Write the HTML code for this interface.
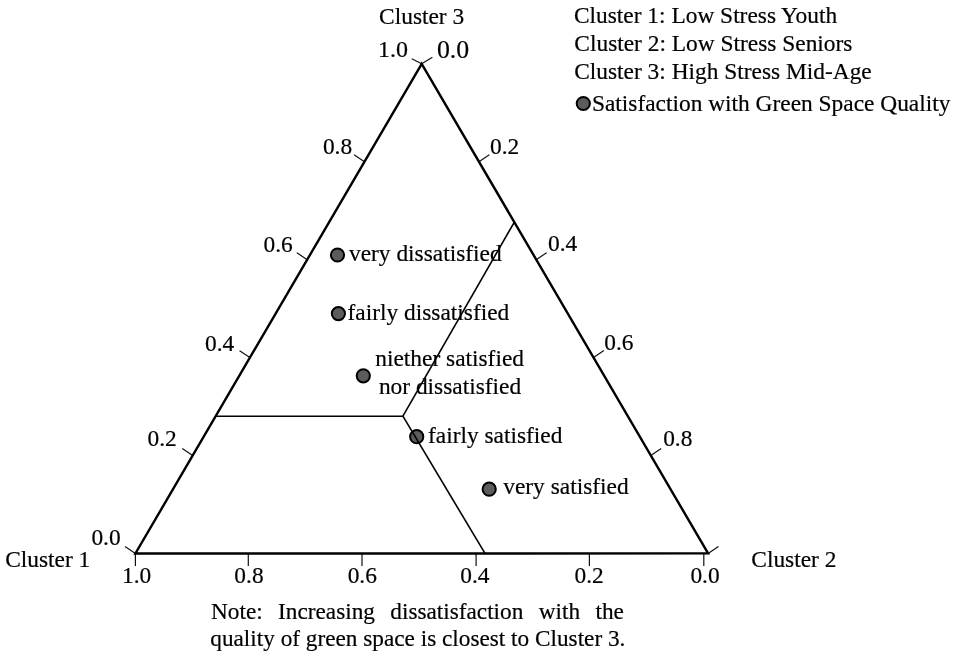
<!DOCTYPE html><html><head><meta charset="utf-8"><style>html,body{margin:0;padding:0;background:#fff;}svg{display:block;will-change:transform;}text{stroke:#000;stroke-width:0.2px;font-family:"Liberation Serif",serif;font-size:23.4px;fill:#000;}</style></head><body>
<svg width="957" height="658" viewBox="0 0 957 658">
<g stroke="#000" stroke-width="1.6" fill="none">
<line x1="215.80" y1="416.20" x2="402.90" y2="416.20"/>
<line x1="402.90" y1="416.20" x2="514.20" y2="222.30"/>
</g>
<g stroke="#111" stroke-width="1.2">
<line x1="135.40" y1="553.40" x2="135.40" y2="565.90"/>
<line x1="248.30" y1="553.40" x2="248.30" y2="565.90"/>
<line x1="362.00" y1="553.40" x2="362.00" y2="565.90"/>
<line x1="476.10" y1="553.40" x2="476.10" y2="565.90"/>
<line x1="589.40" y1="553.40" x2="589.40" y2="565.90"/>
<line x1="703.80" y1="553.40" x2="703.80" y2="565.90"/>
<line x1="135.40" y1="553.50" x2="125.04" y2="546.51"/>
<line x1="192.66" y1="455.56" x2="182.30" y2="448.57"/>
<line x1="249.92" y1="357.62" x2="239.56" y2="350.63"/>
<line x1="307.18" y1="259.68" x2="296.82" y2="252.69"/>
<line x1="364.44" y1="161.74" x2="354.08" y2="154.75"/>
<line x1="421.70" y1="63.80" x2="411.72" y2="58.72"/>
<line x1="421.70" y1="63.80" x2="432.41" y2="57.36"/>
<line x1="478.98" y1="161.72" x2="489.34" y2="154.73"/>
<line x1="536.26" y1="259.64" x2="546.62" y2="252.65"/>
<line x1="593.54" y1="357.56" x2="603.90" y2="350.57"/>
<line x1="650.82" y1="455.48" x2="661.18" y2="448.49"/>
<line x1="708.10" y1="553.40" x2="718.46" y2="546.41"/>
</g>
<g fill="#5c5c5c" stroke="#000" stroke-width="2.0">
<circle cx="337.50" cy="255.00" r="6.6"/>
<circle cx="338.40" cy="313.60" r="6.6"/>
<circle cx="363.30" cy="375.80" r="6.6"/>
<circle cx="416.70" cy="436.70" r="6.6"/>
<circle cx="489.20" cy="489.20" r="6.6"/>
<circle cx="583.30" cy="103.50" r="6.6"/>
</g>
<line x1="402.90" y1="416.20" x2="485.00" y2="553.40" stroke="#000" stroke-width="1.6"/>
<polygon points="135.4,553.5 708.1,553.4 421.7,63.8" fill="none" stroke="#000" stroke-width="2.4" stroke-linejoin="miter"/>
<text x="573.95" y="22.90">Cluster 1: Low Stress Youth</text>
<text x="574.35" y="50.50">Cluster 2: Low Stress Seniors</text>
<text x="574.20" y="78.50">Cluster 3: High Stress Mid-Age</text>
<text x="591.90" y="110.80">Satisfaction with Green Space Quality</text>
<text x="379.10" y="24.40">Cluster 3</text>
<text x="378.10" y="56.80" style="font-size:24.0px">1.0</text>
<text x="436.95" y="58.30" style="font-size:25.8px">0.0</text>
<text x="322.90" y="154.30">0.8</text>
<text x="263.50" y="251.50">0.6</text>
<text x="205.00" y="351.30">0.4</text>
<text x="147.50" y="446.00">0.2</text>
<text x="91.40" y="545.00">0.0</text>
<text x="490.00" y="154.30">0.2</text>
<text x="548.00" y="251.30">0.4</text>
<text x="604.30" y="349.80">0.6</text>
<text x="663.15" y="446.00">0.8</text>
<text x="122.05" y="583.10">1.0</text>
<text x="234.35" y="583.10">0.8</text>
<text x="347.65" y="583.10">0.6</text>
<text x="460.30" y="583.10">0.4</text>
<text x="574.55" y="583.10">0.2</text>
<text x="690.40" y="583.10">0.0</text>
<text x="5.15" y="566.50">Cluster 1</text>
<text x="751.30" y="567.00">Cluster 2</text>
<text x="349.00" y="261.30">very dissatisfied</text>
<text x="347.50" y="319.80">fairly dissatisfied</text>
<text x="375.25" y="366.20">niether satisfied</text>
<text x="378.90" y="394.00">nor dissatisfied</text>
<text x="428.00" y="443.20">fairly satisfied</text>
<text x="503.25" y="494.30">very satisfied</text>
<text x="211.00" y="618.70" word-spacing="9.6" style="font-size:23.25px">Note: Increasing dissatisfaction with the</text>
<text x="210.25" y="645.80" style="font-size:23.25px">quality of green space is closest to Cluster 3.</text>
</svg></body></html>
